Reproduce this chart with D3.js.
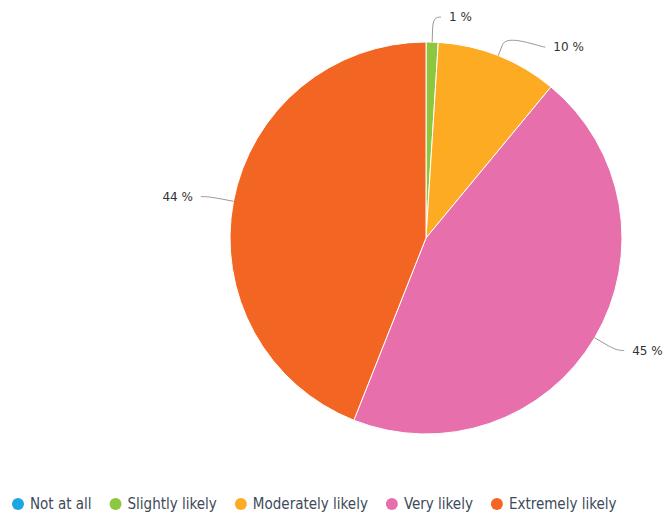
<!DOCTYPE html>
<html>
<head>
<meta charset="utf-8">
<script src="https://cdn.jsdelivr.net/npm/d3@7"></script>
<style>
  body { margin: 0; background: #fff; }
  svg { display: block; }
</style>
</head>
<body>
<svg id="chart" width="665" height="515"></svg>
<script>
var categories = ['Not at all', 'Slightly likely', 'Moderately likely', 'Very likely', 'Extremely likely']
var values = [0, 1, 10, 45, 44]
var colors = ['#1ba7e1', '#8dc63f', '#fcab22', '#e76fac', '#f26522']

var width = 665, height = 515
var cx = 426, cy = 238, radius = 196
var labelDist = 25

var svg = d3.select('#chart')

var data = categories.map((c, i) => ({name: c, value: values[i], color: colors[i]}))

var pie = d3.pie().sort(null).value(d => d.value)
var arc = d3.arc().innerRadius(0).outerRadius(radius)
var arcs = pie(data)

var g = svg.append('g').attr('transform', 'translate(' + cx + ',' + cy + ')')

g.selectAll('.slice')
    .data(arcs.filter(d => d.data.value > 0))
    .enter().append('path')
    .attr('class', 'slice')
    .attr('d', arc)
    .style('fill', d => d.data.color)
    .style('stroke', '#fff')
    .style('stroke-width', 1)

// label placement: natural y from angle, pushed apart per side, x on circle
var R = radius + labelDist
var labels = arcs.filter(d => d.data.value > 0).map(d => {
    var a = (d.startAngle + d.endAngle) / 2
    return {
        d: d,
        a: a,
        left: Math.sin(a) < 0,
        y: -R * Math.cos(a)
    }
})

;[true, false].forEach(side => {
    var items = labels.filter(l => l.left === side).sort((p, q) => p.y - q.y)
    for (var i = 1; i < items.length; i++) {
        if (items[i].y < items[i - 1].y + 30) items[i].y = items[i - 1].y + 30
    }
})

labels.forEach(l => {
    var s = l.left ? -1 : 1
    var dy = Math.max(-R, Math.min(R, l.y))
    l.cxs = s * Math.sqrt(R * R - dy * dy)
    l.s = s
    l.touch = [radius * Math.sin(l.a), -radius * Math.cos(l.a)]
    l.brk = [(radius + 12) * Math.sin(l.a), -(radius + 12) * Math.cos(l.a)]
})

g.selectAll('.connector')
    .data(labels)
    .enter().append('path')
    .attr('class', 'connector')
    .attr('d', l => {
        var ax = l.cxs + l.s * 3
        var sx = l.cxs + l.s * 8
        return 'M' + sx + ',' + l.y +
            'C' + ax + ',' + l.y + ' ' +
            (2 * l.brk[0] - l.touch[0]) + ',' + (2 * l.brk[1] - l.touch[1]) + ' ' +
            l.brk[0] + ',' + l.brk[1] +
            'L' + l.touch[0] + ',' + l.touch[1]
    })
    .style('fill', 'none')
    .style('stroke', '#999')
    .style('stroke-width', 1)

g.selectAll('.dlabel')
    .data(labels)
    .enter().append('text')
    .attr('class', 'dlabel')
    .attr('x', l => l.cxs + l.s * 16)
    .attr('y', l => l.y)
    .attr('dy', '0.35em')
    .style('text-anchor', l => l.left ? 'end' : 'start')
    .style('font-family', 'DejaVu Sans, sans-serif')
    .style('font-size', '12px')
    .style('fill', '#333')
    .text(l => l.d.data.value + ' %')

// legend
var legend = svg.append('g').attr('transform', 'translate(0,504)')
var lx = 12
data.forEach(d => {
    var item = legend.append('g').attr('transform', 'translate(' + lx + ',0)')
    item.append('circle')
        .attr('cx', 6)
        .attr('cy', 0)
        .attr('r', 6)
        .style('fill', d.color)
    var t = item.append('text')
        .attr('x', 18)
        .attr('y', 0)
        .attr('dy', '0.35em')
        .style('font-family', 'DejaVu Sans Condensed, DejaVu Sans, sans-serif')
        .style('font-size', '15px')
        .style('fill', '#3d4a5a')
        .text(d.name)
    lx += 18 + t.node().getComputedTextLength() + 18
})
</script>
</body>
</html>
